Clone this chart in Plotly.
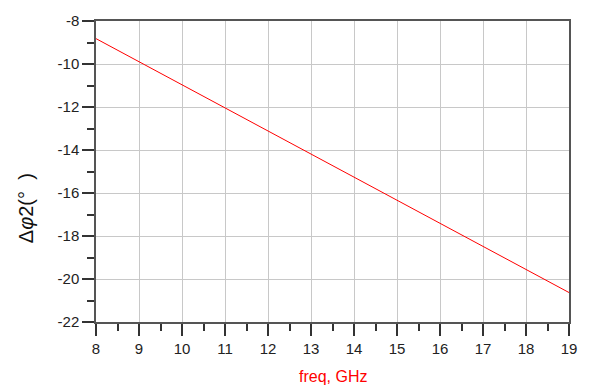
import plotly.graph_objects as go

freq = [8, 9, 10, 11, 12, 13, 14, 15, 16, 17, 18, 19]
dphi2 = [-8.82, -9.89, -10.97, -12.04, -13.12, -14.19, -15.26, -16.34, -17.41, -18.48, -19.56, -20.63]
x_ticks = list(range(8, 20))
y_ticks = list(range(-22, -7, 2))
y_minor = list(range(-21, -8, 2))
x_minor = [v + 0.5 for v in range(8, 19)]

fig = go.Figure()
fig.add_trace(go.Scatter(x=freq, y=dphi2, mode="lines",
                         line=dict(color="#ff0000", width=1), showlegend=False))

W, H = 589, 388
ml, mr, mt, mb = 96, 16, 19.5, 66
pw, ph = W - ml - mr, H - mt - mb

fig.update_layout(
    width=W, height=H,
    margin=dict(l=ml, r=mr, t=mt, b=mb),
    paper_bgcolor="white", plot_bgcolor="white",
    font=dict(family="Liberation Sans, Arial, sans-serif", size=14, color="#222"),
    xaxis=dict(range=[8, 19], tickvals=x_ticks, ticktext=[str(v) for v in x_ticks],
               ticks="outside", ticklen=12,
               tickcolor="#333", tickwidth=1.5,
               showgrid=True, gridcolor="#c8c8c8", gridwidth=1.3,
               showline=True, linecolor="#555", linewidth=1.5, mirror=True,
               zeroline=False,
               minor=dict(tickvals=x_minor, ticks="outside", ticklen=7, tickcolor="#333",
                          tickwidth=1.5, showgrid=False),
               tickfont=dict(size=15)),
    yaxis=dict(range=[-22, -8], tickvals=y_ticks, ticktext=["-%d" % -v for v in y_ticks],
               ticks="outside", ticklen=12,
               tickcolor="#333", tickwidth=1.5,
               showgrid=True, gridcolor="#c8c8c8", gridwidth=1.3,
               showline=True, linecolor="#555", linewidth=1.5, mirror=True,
               zeroline=False,
               minor=dict(tickvals=y_minor, ticks="outside", ticklen=7, tickcolor="#333",
                          tickwidth=1.5, showgrid=False),
               tickfont=dict(size=15)),
)

fig.add_annotation(text="Δ<i>φ</i>2(°  )", textangle=-90, xref="paper", yref="paper",
                   x=(25 - ml) / pw, y=(H - mb - 208) / ph, showarrow=False,
                   xanchor="center", yanchor="middle",
                   font=dict(size=20, color="#111"))
fig.add_annotation(text="freq, GHz", xref="paper", yref="paper",
                   x=0.5, y=(H - mb - 377) / ph, showarrow=False,
                   xanchor="center", yanchor="middle",
                   font=dict(size=16, color="#ff0000"))

fig.write_html("out.html", config={"displayModeBar": False},
               post_script="document.body.style.margin='0';document.body.style.overflow='hidden';")
